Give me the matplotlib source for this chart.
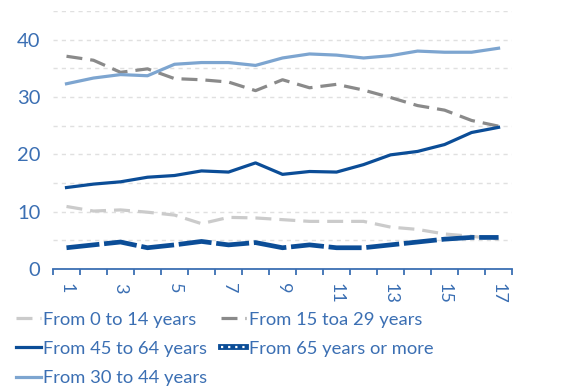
import matplotlib
matplotlib.use("Agg")
import matplotlib.pyplot as plt
from matplotlib.lines import Line2D
from matplotlib.ticker import MultipleLocator, FixedLocator

plt.rcParams['font.family'] = ['Lato', 'DejaVu Sans']

years = list(range(1, 18))
age_0_14 = [10.9, 10.1, 10.3, 9.9, 9.4, 7.9, 9.0, 8.9, 8.6, 8.3, 8.3, 8.3, 7.3, 6.9, 6.1, 5.7, 5.2]
age_15_29 = [37.1, 36.4, 34.3, 34.9, 33.2, 33.0, 32.6, 31.1, 33.0, 31.6, 32.2, 31.2, 29.9, 28.5, 27.7, 25.9, 24.9]
age_30_44 = [32.3, 33.3, 33.9, 33.7, 35.7, 36.0, 36.0, 35.5, 36.8, 37.5, 37.3, 36.8, 37.2, 38.0, 37.8, 37.8, 38.5]
age_45_64 = [14.2, 14.8, 15.2, 16.0, 16.3, 17.1, 16.9, 18.5, 16.5, 17.0, 16.9, 18.2, 19.9, 20.5, 21.7, 23.8, 24.7]
age_65_up = [3.7, 4.2, 4.7, 3.7, 4.2, 4.8, 4.2, 4.6, 3.7, 4.2, 3.7, 3.7, 4.2, 4.7, 5.2, 5.5, 5.5]

text_blue = '#3b6fb3'
dark_blue = '#0b4d97'
light_blue = '#7da5d0'
mid_gray = '#8a8a8a'
light_gray = '#cbcbcb'

fig = plt.figure(figsize=(5.71, 3.87), dpi=100)
ax = fig.add_axes([0.0928, 0.305, 0.804, 0.6667])

l1, = ax.plot(years, age_0_14, color=light_gray, lw=2.3, dashes=(5, 2.5), label='From 0 to 14 years')
l2, = ax.plot(years, age_15_29, color=mid_gray, lw=2.3, dashes=(5, 2.5), label='From 15 toa 29 years')
l4, = ax.plot(years, age_45_64, color=dark_blue, lw=2.3, label='From 45 to 64 years')
l3, = ax.plot(years, age_30_44, color=light_blue, lw=2.3, label='From 30 to 44 years')
l5, = ax.plot(years, age_65_up, color=dark_blue, lw=3.4, dashes=(7, 1.0), label='From 65 years or more')

# legend key for the 65+ series: thick blue bar with white dots
key_65 = (Line2D([], [], color=dark_blue, lw=4.2),
          Line2D([], [], color='white', lw=1.6, dashes=(1, 2.2)))

ax.set_xlim(0.5, 17.5)
ax.set_ylim(0, 45)
ax.yaxis.set_major_locator(FixedLocator([0, 10, 20, 30, 40]))
ax.yaxis.set_minor_locator(MultipleLocator(5))
ax.grid(axis='y', which='both', color='#e0e0e0', lw=1, dashes=(3, 3))
ax.set_axisbelow(True)

ax.xaxis.set_major_locator(FixedLocator(list(range(1, 18, 2))))
ax.xaxis.set_minor_locator(FixedLocator([i + 0.5 for i in range(0, 18)]))
ax.set_xticklabels([str(i) for i in range(1, 18, 2)], rotation=-90)
ax.tick_params(axis='x', which='major', length=0, pad=10, labelcolor=text_blue, labelsize=13)
ax.tick_params(axis='x', which='minor', length=4, width=1.3, color=text_blue, direction='out')
ax.tick_params(axis='y', which='both', length=0, pad=9, labelcolor=text_blue, labelsize=14.5)

for s in ['top', 'right', 'left']:
    ax.spines[s].set_visible(False)
ax.spines['bottom'].set_color(text_blue)
ax.spines['bottom'].set_linewidth(1.3)

leg = fig.legend(handles=[l1, l4, l3, l2, key_65],
                 labels=[l1.get_label(), l4.get_label(), l3.get_label(),
                         l2.get_label(), l5.get_label()],
                 ncol=2, loc='upper left',
                 bbox_to_anchor=(0.028, 0.195), frameon=False, fontsize=13.2,
                 handlelength=1.35, handletextpad=0.15, columnspacing=0.75,
                 labelspacing=0.72, borderaxespad=0, borderpad=0)
for t in leg.get_texts():
    t.set_color(text_blue)

fig.savefig('out.png', dpi=100)
